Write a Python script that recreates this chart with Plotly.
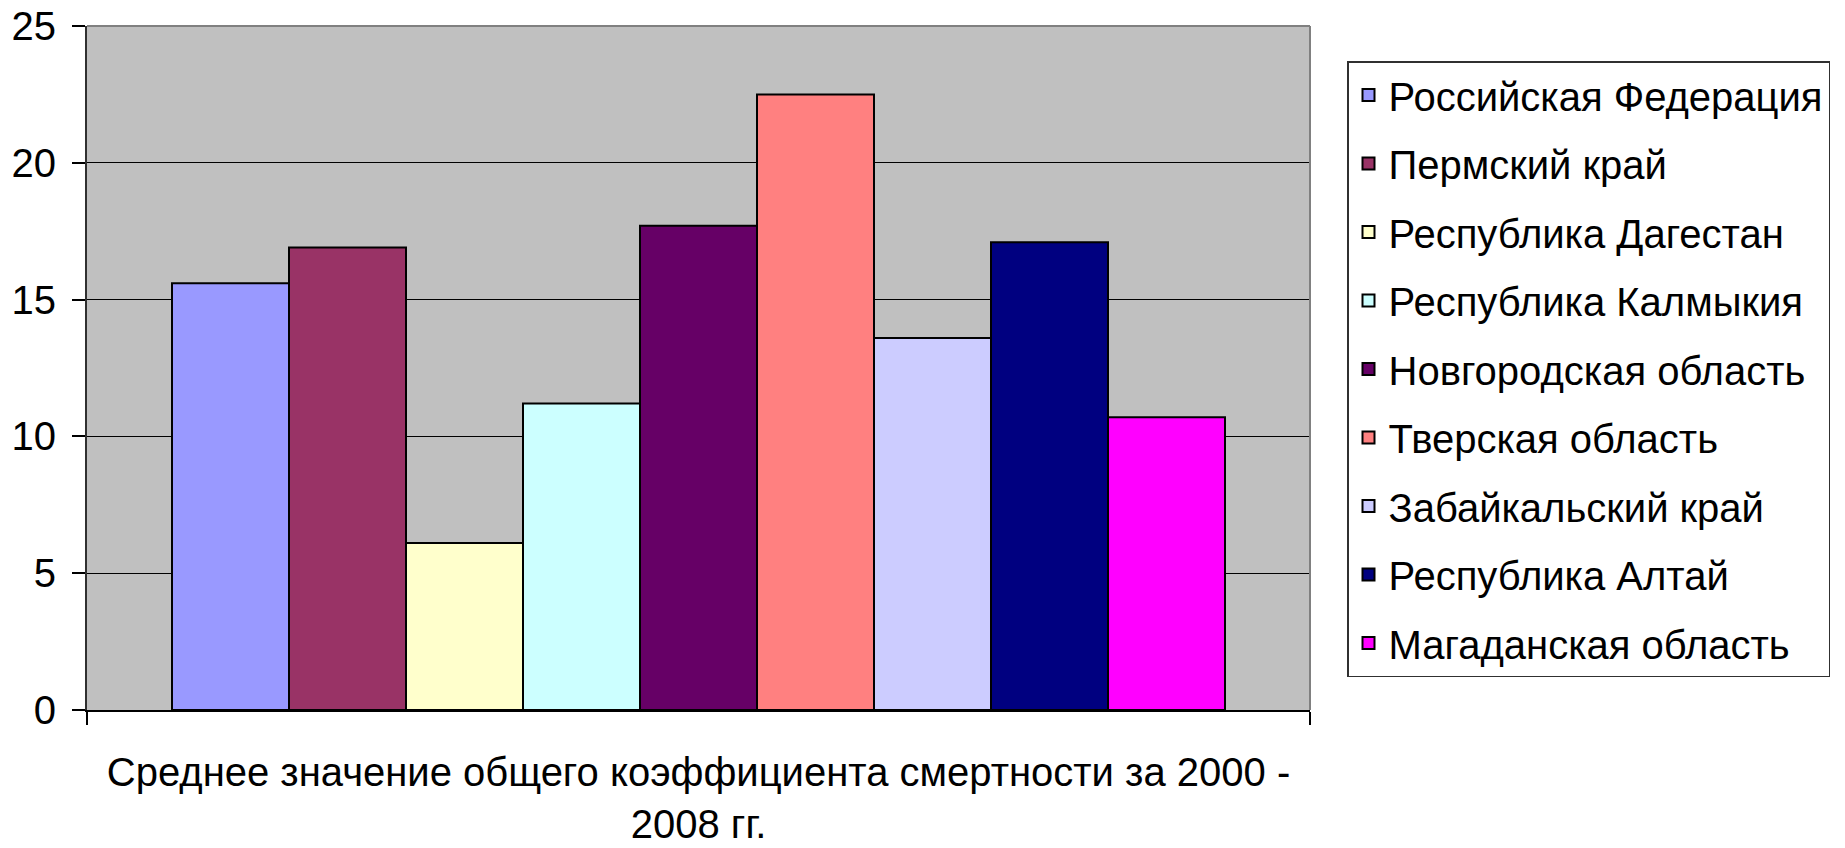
import plotly.graph_objects as go

category = ["Среднее значение общего коэффициента смертности за 2000 -<br>2008 гг."]
regions = [
    "Российская Федерация",
    "Пермский край",
    "Республика Дагестан",
    "Республика Калмыкия",
    "Новгородская область",
    "Тверская область",
    "Забайкальский край",
    "Республика Алтай",
    "Магаданская область",
]
values = [15.6, 16.9, 6.1, 11.2, 17.7, 22.5, 13.6, 17.1, 10.7]
colors = ["#9999FF", "#993366", "#FFFFCC", "#CCFFFF", "#660066",
          "#FF8080", "#CCCCFF", "#000080", "#FF00FF"]
y_ticks = [0, 5, 10, 15, 20, 25]

FONT = "Liberation Sans, Arial, sans-serif"

fig = go.Figure()
for name, val, col in zip(regions, values, colors):
    fig.add_trace(go.Bar(
        x=category, y=[val], name=name, legendgroup=name,
        marker=dict(color=col, line=dict(color="black", width=2)),
    ))

fig.update_layout(
    width=1845, height=848,
    margin=dict(l=87, r=535, t=26, b=138, autoexpand=False),
    paper_bgcolor="white",
    plot_bgcolor="#C0C0C0",
    barmode="group",
    bargap=0.139,
    bargroupgap=0,
    font=dict(family=FONT, size=40, color="black"),
    showlegend=True,
    legend=dict(
        x=(1347 - 87) / 1223, y=(710 - 61) / 684, xanchor="left", yanchor="top",
        bgcolor="white", bordercolor="#303030", borderwidth=1.5,
        font=dict(family=FONT, size=40, color="black"),
        tracegroupgap=13.5,
        traceorder="grouped",
    ),
    shapes=[
        dict(type="line", xref="paper", yref="paper", x0=0, x1=1, y0=1, y1=1,
             line=dict(color="#808080", width=2), layer="above"),
        dict(type="line", xref="paper", yref="paper", x0=1, x1=1, y0=0, y1=1,
             line=dict(color="#808080", width=2), layer="above"),
    ],
)

fig.update_xaxes(
    type="category",
    showline=True, linecolor="black", linewidth=2,
    ticks="outside", tickson="boundaries", ticklen=13, tickcolor="black", tickwidth=1.5,
    showgrid=False,
    ticklabelstandoff=26,
    tickfont=dict(family=FONT, size=40, color="black"),
)
fig.update_yaxes(
    range=[0, 25], tickvals=y_ticks,
    showline=True, linecolor="#303030", linewidth=1.8,
    ticks="outside", ticklen=13, tickcolor="black", tickwidth=1.5,
    showgrid=True, gridcolor="black", gridwidth=1.3,
    zeroline=False,
    ticklabelstandoff=8,
    tickfont=dict(family=FONT, size=40, color="black"),
)

fig.write_html("out.html")
